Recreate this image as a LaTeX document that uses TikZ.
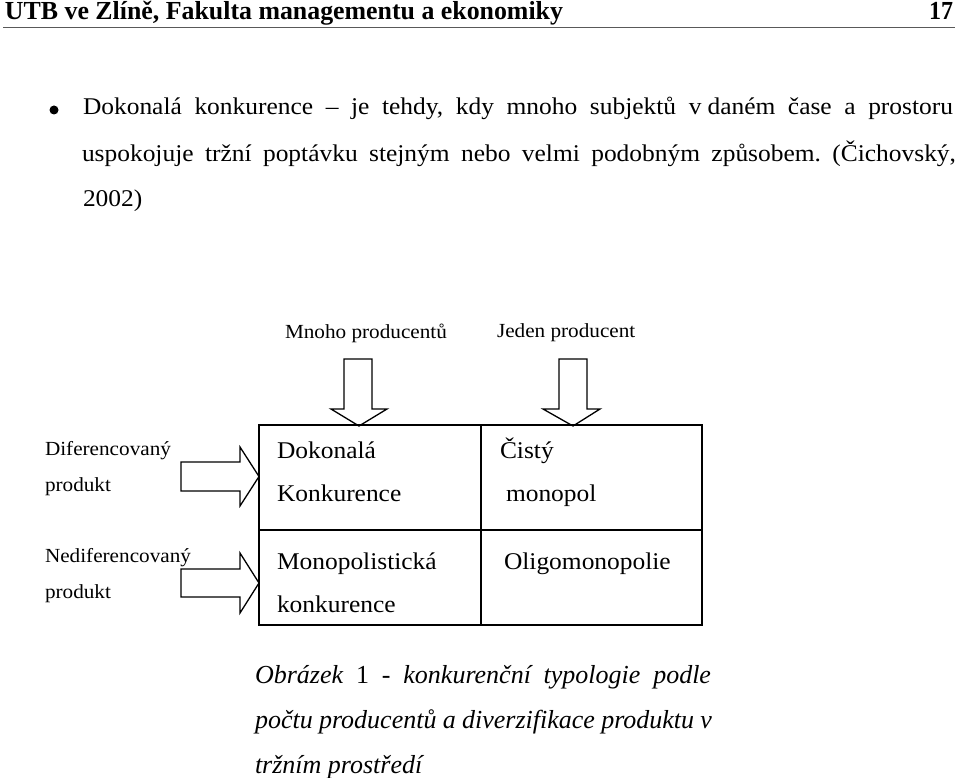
\documentclass[tikz,border=0pt]{standalone}
\usepackage{fontspec}
\usepackage{graphicx}
\setmainfont{Liberation Serif}[FakeStretch=1.06]
\newfontfamily\capfont{Liberation Serif}
\newfontfamily\hdrfont{Liberation Serif}
\frenchspacing
\tikzset{
  txt/.style={inner sep=0pt, outer sep=0pt, anchor=base west},
  body/.style={txt, font=\fontsize{24}{24}\selectfont},
  lab/.style={txt, font=\fontsize{20}{20}\selectfont},
  cell/.style={txt, font=\fontsize{24}{24}\selectfont},
  captxt/.style={txt, font=\capfont\itshape\fontsize{26}{26}\selectfont},
  blk/.style={draw=black, line width=1.3pt, fill=white, line join=miter},
  gridln/.style={draw=black, line width=1.5pt}
}
\begin{document}
\begin{tikzpicture}[x=1pt,y=-1pt]
\useasboundingbox (0,0) rectangle (960,778);
% header
\node[txt] (hdr) at (5,20) {\hdrfont\bfseries\fontsize{26}{26}\selectfont\resizebox{558pt}{\height}{UTB ve Zlíně, Fakulta managementu a ekonomiky}};
\node[txt, anchor=base east] (pg) at (953,20) {\hdrfont\bfseries\fontsize{26}{26}\selectfont\resizebox{24pt}{\height}{17}};
\draw[black!65, line width=1.6pt] (3,27.5) -- (955,27.5);
% paragraph
\fill (54,110) circle (4.5);
\node[body] (l1) at (83,115) {\makebox[870pt][s]{Dokonalá konkurence – je tehdy, kdy mnoho subjektů v\hspace{0.25em}daném čase a prostoru}};
\node[body] (l2) at (82,161) {\makebox[874pt][s]{uspokojuje tržní poptávku stejným nebo velmi podobným způsobem. (Čichovský,}};
\node[body] (l3) at (83,206) {2002)};
% top labels
\node[lab] (mnoho) at (285,338) {Mnoho producentů};
\node[lab] (jeden) at (497,337) {Jeden producent};
% down arrows
\draw[blk] (344,359) -- (372,359) -- (372,409) -- (387,409) -- (359,426) -- (331,409) -- (344,409) -- cycle;
\draw[blk] (559,359) -- (587,359) -- (587,409) -- (600,409) -- (573,426) -- (543,409) -- (559,409) -- cycle;
% left labels
\node[lab] (dif1) at (45,455) {Diferencovaný};
\node[lab] (dif2) at (45,491) {produkt};
\node[lab] (ndif1) at (45,562) {Nediferencovaný};
\node[lab] (ndif2) at (45,598) {produkt};
% right arrows
\draw[blk] (181,462) -- (240,462) -- (240,447) -- (259,476.5) -- (240,506) -- (240,491) -- (181,491) -- cycle;
\draw[blk] (181,569) -- (240,569) -- (240,553) -- (259,583) -- (240,613) -- (240,597) -- (181,597) -- cycle;
% grid
\draw[gridln] (259,425) rectangle (702,625);
\draw[gridln] (481,425) -- (481,625);
\draw[gridln] (259,530) -- (702,530);
% cells
\node[cell] (c11a) at (277,458) {Dokonalá};
\node[cell] (c11b) at (277,501) {Konkurence};
\node[cell] (c12a) at (500,458) {Čistý};
\node[cell] (c12b) at (506,501) {monopol};
\node[cell] (c21a) at (277,569) {Monopolistická};
\node[cell] (c21b) at (277,612) {konkurence};
\node[cell] (c22) at (504,569) {Oligomonopolie};
% caption
\node[captxt] (cap1) at (255,683) {\makebox[456pt][s]{Obrázek \textup{1} \textup{-} konkurenční typologie podle}};
\node[captxt] (cap2) at (255,728) {\makebox[457pt][s]{počtu producentů a diverzifikace produktu v}};
\node[captxt] (cap3) at (255,773) {tržním prostředí};
\end{tikzpicture}
\end{document}
